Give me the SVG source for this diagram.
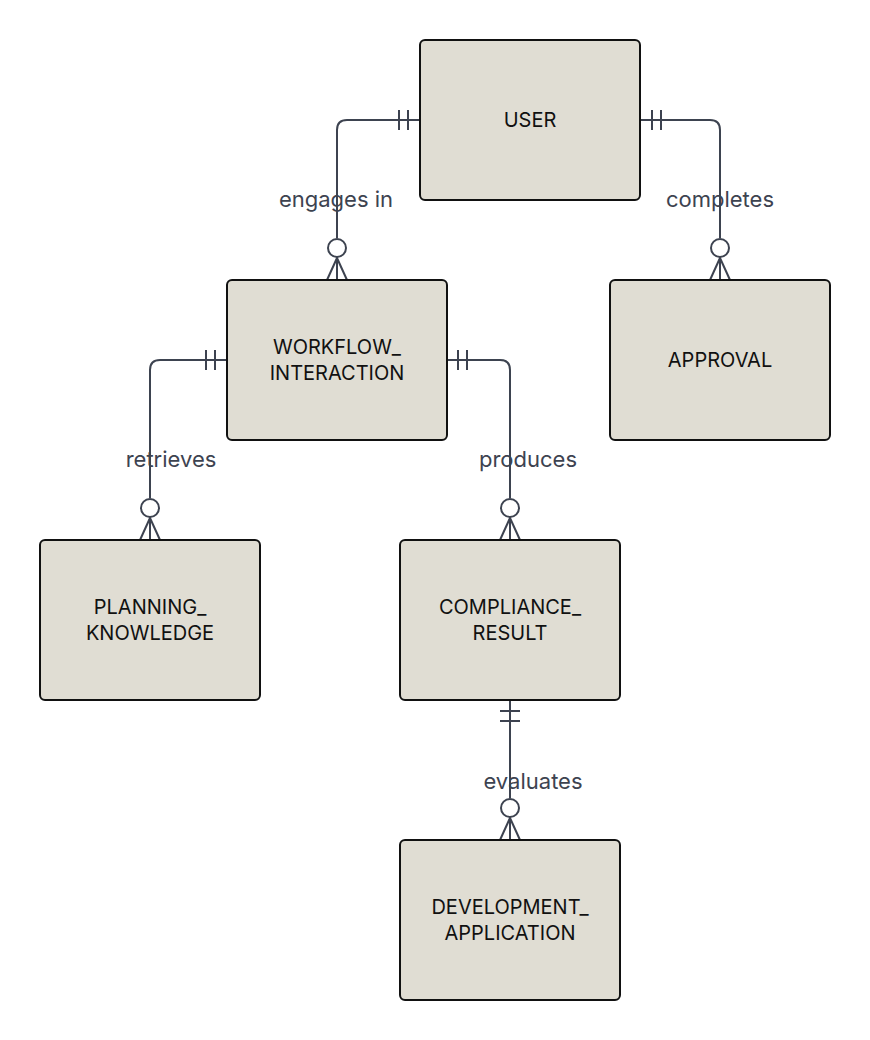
<svg xmlns="http://www.w3.org/2000/svg" width="870" height="1040" viewBox="0 0 870 1040">
<style>
.node rect{fill:#e0ddd3;stroke:#111111;stroke-width:2}
.node text{font-family:Inter,"Liberation Sans",sans-serif;font-size:20px;fill:#111111;text-anchor:middle}
.edge path,.edge line,.edge circle{fill:none;stroke:#3d4350;stroke-width:2}
.edge circle{fill:#ffffff}
.lbl{font-family:Inter,"Liberation Sans",sans-serif;font-size:22px;fill:#3d4350;text-anchor:middle}
</style>
<rect width="870" height="1040" fill="#ffffff"/>
<g id="connectors" class="edge">
  <path d="M420,120 H347 Q337,120 337,130 V238"/>
  <line x1="408" y1="110" x2="408" y2="130"/>
  <line x1="399" y1="110" x2="399" y2="130"/>
  <circle cx="337" cy="248" r="9"/>
  <path d="M337,257 V280 M337,258 L327,280 M337,258 L347,280"/>
  <text class="lbl" x="336" y="207">engages in</text>
  <path d="M640,120 H710 Q720,120 720,130 V238"/>
  <line x1="652" y1="110" x2="652" y2="130"/>
  <line x1="661" y1="110" x2="661" y2="130"/>
  <circle cx="720" cy="248" r="9"/>
  <path d="M720,257 V280 M720,258 L710,280 M720,258 L730,280"/>
  <text class="lbl" x="720" y="207">completes</text>
  <path d="M227,360 H160 Q150,360 150,370 V498"/>
  <line x1="215" y1="350" x2="215" y2="370"/>
  <line x1="206" y1="350" x2="206" y2="370"/>
  <circle cx="150" cy="508" r="9"/>
  <path d="M150,517 V540 M150,518 L140,540 M150,518 L160,540"/>
  <text class="lbl" x="171" y="467">retrieves</text>
  <path d="M447,360 H500 Q510,360 510,370 V498"/>
  <line x1="458" y1="350" x2="458" y2="370"/>
  <line x1="467" y1="350" x2="467" y2="370"/>
  <circle cx="510" cy="508" r="9"/>
  <path d="M510,517 V540 M510,518 L500,540 M510,518 L520,540"/>
  <text class="lbl" x="528" y="467">produces</text>
  <path d="M510,700 V798"/>
  <line x1="500" y1="711" x2="520" y2="711"/>
  <line x1="500" y1="721" x2="520" y2="721"/>
  <circle cx="510" cy="808" r="9"/>
  <path d="M510,817 V840 M510,818 L500,840 M510,818 L520,840"/>
  <text class="lbl" x="533" y="789">evaluates</text>
</g>
<g id="USER" class="node">
  <rect x="420" y="40" width="220" height="160" rx="5"/>
  <text x="530" y="127">USER</text>
</g>
<g id="WORKFLOW_INTERACTION" class="node">
  <rect x="227" y="280" width="220" height="160" rx="5"/>
  <text x="337" y="354">WORKFLOW_</text>
  <text x="337" y="380">INTERACTION</text>
</g>
<g id="APPROVAL" class="node">
  <rect x="610" y="280" width="220" height="160" rx="5"/>
  <text x="720" y="367">APPROVAL</text>
</g>
<g id="PLANNING_KNOWLEDGE" class="node">
  <rect x="40" y="540" width="220" height="160" rx="5"/>
  <text x="150" y="614">PLANNING_</text>
  <text x="150" y="640">KNOWLEDGE</text>
</g>
<g id="COMPLIANCE_RESULT" class="node">
  <rect x="400" y="540" width="220" height="160" rx="5"/>
  <text x="510" y="614">COMPLIANCE_</text>
  <text x="510" y="640">RESULT</text>
</g>
<g id="DEVELOPMENT_APPLICATION" class="node">
  <rect x="400" y="840" width="220" height="160" rx="5"/>
  <text x="510" y="914">DEVELOPMENT_</text>
  <text x="510" y="940">APPLICATION</text>
</g>
</svg>
